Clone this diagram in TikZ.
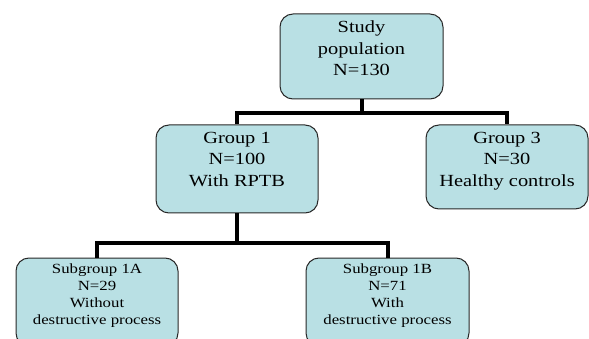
\documentclass[tikz,border=0pt]{standalone}
\usepackage{fontspec}
\setmainfont{Liberation Serif}[FakeStretch=1.2]
\definecolor{boxfill}{RGB}{185,224,228}
\definecolor{boxline}{RGB}{40,40,40}
\tikzset{
  box/.style={draw=boxline, line width=1pt, fill=boxfill, rounded corners=13pt, inner sep=0pt},
  bigtxt/.style={anchor=north, align=center, inner sep=0pt, font=\fontsize{17}{21.5}\selectfont},
  smalltxt/.style={anchor=north, align=center, inner sep=0pt, font=\fontsize{14}{17}\selectfont},
  conn/.style={draw=black, line width=4pt}
}
\begin{document}
\begin{tikzpicture}[x=1pt,y=-1pt]
\useasboundingbox (0,0) rectangle (589,339);
\clip (0,0) rectangle (589,339);
% boxes
\node[box, minimum width=163pt, minimum height=85pt] (top) at (361.5,56.5) {};
\node[box, minimum width=162pt, minimum height=88pt] (g1) at (237,169) {};
\node[box, minimum width=162pt, minimum height=84pt] (g3) at (507,167) {};
\node[box, minimum width=162pt, minimum height=88pt] (s1) at (97,302) {};
\node[box, minimum width=163pt, minimum height=88pt] (s2) at (387.5,302) {};
% texts
\node[bigtxt] (toptxt) at (361.5,21) {Study\\population\\N=130};
\node[bigtxt] (g1txt) at (237,132) {Group 1\\N=100\\With RPTB};
\node[bigtxt] (g3txt) at (507,132) {Group 3\\N=30\\Healthy controls};
\node[smalltxt] (s1txt) at (97,264) {Subgroup 1A\\N=29\\Without\\destructive process};
\node[smalltxt] (s2txt) at (387.5,264) {Subgroup 1B\\N=71\\With\\destructive process};
% connectors
\coordinate (j1) at (361.5,113);
\coordinate (j2) at (237,243);
\draw[conn] (top.south) -- (j1);
\draw[conn] (g1.north) |- (j1) -| (g3.north);
\draw[conn] (g1.south) -- (j2);
\draw[conn] (s1.north) |- (j2) -| (s2.north);
\end{tikzpicture}
\end{document}
